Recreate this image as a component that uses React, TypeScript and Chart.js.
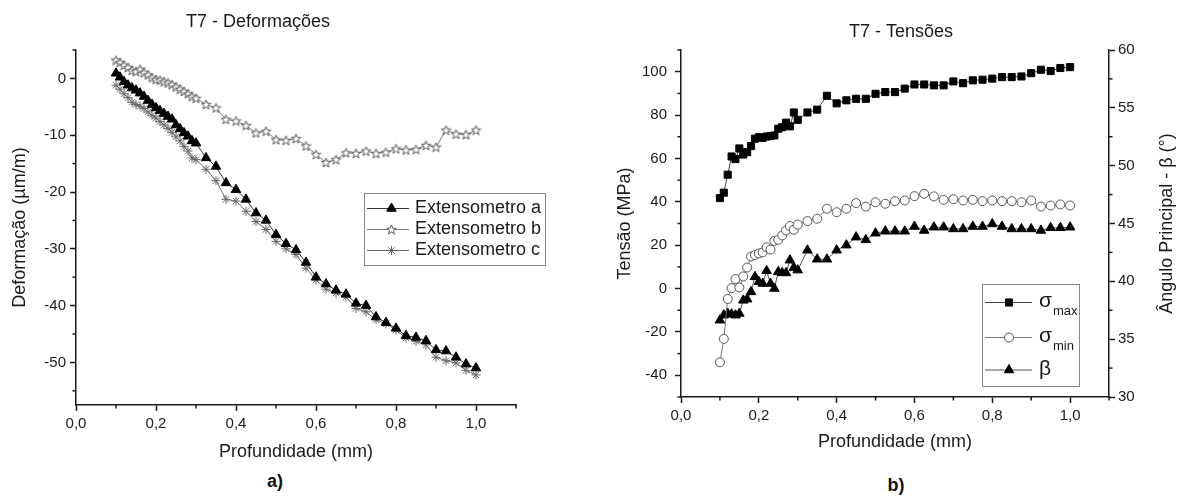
import React, { useEffect, useRef } from 'react';
import { Chart, registerables } from 'chart.js';
import { drawPoint } from 'chart.js/helpers';

const FONT = "'Liberation Sans', Arial, Helvetica, sans-serif";
const INK = '#1a1a1a';

// ---------- data ----------
const depth = [0.10, 0.11, 0.12, 0.13, 0.14, 0.15, 0.16, 0.17, 0.18, 0.19, 0.20, 0.21, 0.22, 0.23, 0.24, 0.25, 0.26, 0.27, 0.28, 0.29, 0.30,
  0.325, 0.35, 0.375, 0.40, 0.425, 0.45, 0.475, 0.50, 0.525, 0.55, 0.575, 0.60, 0.625, 0.65, 0.675, 0.70, 0.725, 0.75, 0.775, 0.80,
  0.825, 0.85, 0.875, 0.90, 0.925, 0.95, 0.975, 1.00];

const extA = [0.9, 0.2, -0.6, -1.2, -1.7, -2.1, -2.6, -3.2, -3.9, -4.6, -5.2, -5.7, -6.2, -6.7, -7.2, -8.2, -8.9, -9.6, -10.2, -11.0, -11.4,
  -14.0, -15.5, -18.4, -19.6, -21.3, -23.7, -25.0, -27.5, -29.1, -30.2, -32.4, -35.0, -36.2, -37.3, -38.0, -39.6, -40.0, -42.0, -43.0, -44.0,
  -45.3, -45.6, -46.2, -47.8, -48.0, -49.1, -50.3, -51.0];

const extB = [3.2, 2.8, 2.3, 1.9, 1.4, 1.2, 1.6, 1.0, 0.6, 0.1, -0.2, -0.3, -0.6, -0.8, -1.1, -1.5, -1.9, -2.3, -2.7, -3.2, -3.5,
  -4.6, -5.2, -7.2, -7.5, -8.3, -9.6, -9.3, -10.8, -10.9, -10.6, -11.9, -13.4, -14.8, -14.3, -13.1, -13.2, -12.8, -13.2, -13.0, -12.4,
  -12.6, -12.5, -11.8, -12.1, -9.1, -9.8, -9.9, -9.1];

const extC = [-1.2, -1.9, -2.7, -3.4, -4.2, -4.6, -4.9, -5.3, -5.9, -6.5, -7.0, -7.6, -8.2, -8.8, -9.5, -10.3, -11.0, -12.0, -12.8, -14.0, -14.3,
  -16.0, -18.0, -21.3, -21.6, -23.4, -25.2, -26.6, -28.7, -30.0, -31.0, -33.4, -35.5, -37.1, -37.8, -38.5, -40.5, -41.1, -42.5, -43.2, -44.3,
  -45.7, -46.3, -46.9, -49.1, -49.7, -50.1, -51.4, -52.2];

const sigmaMax = [41.7, 44.2, 52.5, 60.9, 59.7, 64.6, 61.8, 62.9, 65.7, 69.1, 69.8, 69.5, 70.1, 70.3, 70.6, 73.7, 74.4, 76.5, 74.8, 81.2, 77.8,
  81.2, 82.5, 88.9, 85.4, 86.8, 87.5, 87.5, 89.8, 90.6, 90.6, 92.2, 94.1, 94.1, 93.7, 93.7, 95.5, 94.7, 96.0, 96.3, 96.8,
  97.5, 97.5, 97.8, 99.3, 100.9, 100.3, 101.7, 102.1];

const sigmaMin = [-34.0, -23.2, -4.8, 0.2, 4.4, 0.5, 5.6, 9.7, 14.8, 15.4, 16.2, 16.7, 19.0, 18.0, 22.0, 22.5, 24.5, 26.8, 28.8, 27.1, 29.5,
  31.1, 32.2, 36.8, 35.2, 36.8, 39.4, 37.8, 39.8, 39.1, 40.3, 40.6, 42.6, 43.7, 42.5, 40.9, 41.2, 40.6, 40.9, 40.3, 40.6,
  40.3, 40.3, 39.8, 40.6, 37.8, 38.3, 38.8, 38.3];

const beta = [36.64, 37.07, 37.22, 37.16, 37.07, 37.22, 38.36, 38.46, 39.09, 40.39, 39.96, 39.81, 40.91, 39.81, 39.38, 40.82, 40.73, 40.73, 41.83, 41.19, 40.97,
  42.69, 41.91, 41.91, 42.69, 43.13, 43.82, 43.59, 44.16, 44.33, 44.33, 44.33, 44.74, 44.40, 44.68, 44.68, 44.53, 44.53, 44.74, 44.74, 44.96,
  44.74, 44.53, 44.53, 44.53, 44.40, 44.63, 44.63, 44.68];

const depthTicks = [0, 0.2, 0.4, 0.6, 0.8, 1.0];
const depthMinorTicks = [0.1, 0.3, 0.5, 0.7, 0.9, 1.1];
const strainTicks = [-50, -40, -30, -20, -10, 0];
const strainMinorTicks = [-55, -45, -35, -25, -15, -5, 5];
const stressTicks = [-40, -20, 0, 20, 40, 60, 80, 100];
const stressMinorTicks = [-50, -30, -10, 10, 30, 50, 70, 90, 110];
const angleTicks = [30, 35, 40, 45, 50, 55, 60];
const angleMinorTicks = [32.5, 37.5, 42.5, 47.5, 52.5, 57.5];

const strainLabels = ['Extensometro a', 'Extensometro b', 'Extensometro c'];
const stressLabels = ['σmax', 'σmin', 'β'];
const stressLegendMain = ['σ', 'σ', 'β'];
const stressLegendSub = ['max', 'min', ''];

const toXY = (ys: number[]) => ys.map((y, i) => ({ x: depth[i], y }));

// ---------- plugins ----------
const minorTicksPlugin = {
  id: 'minorTicks',
  afterDraw(chart: any, _a: any, o: any) {
    if (!o || !o.axes) return;
    const ctx = chart.ctx;
    ctx.save();
    ctx.strokeStyle = o.color || INK;
    ctx.lineWidth = o.width || 1;
    for (const a of o.axes) {
      const s = chart.scales[a.id];
      if (!s) continue;
      for (const v of a.values) {
        const p = s.getPixelForValue(v);
        ctx.beginPath();
        if (s.position === 'bottom') { ctx.moveTo(p, s.top); ctx.lineTo(p, s.top + a.len); }
        else if (s.position === 'left') { ctx.moveTo(s.right, p); ctx.lineTo(s.right - a.len, p); }
        else { ctx.moveTo(s.left, p); ctx.lineTo(s.left + a.len, p); }
        ctx.stroke();
      }
    }
    ctx.restore();
  },
};

const boxLegendPlugin = {
  id: 'boxLegend',
  afterDraw(chart: any, _a: any, o: any) {
    if (!o || !o.box) return;
    const ctx = chart.ctx;
    const [bx, by, bw, bh] = o.box;
    ctx.save();
    ctx.fillStyle = '#fff';
    ctx.fillRect(bx, by, bw, bh);
    ctx.strokeStyle = o.borderColor;
    ctx.lineWidth = 1;
    ctx.strokeRect(bx + 0.5, by + 0.5, bw, bh);
    o.rows.forEach((ry: number, i: number) => {
      const ds = chart.data.datasets[i];
      ctx.strokeStyle = ds.borderColor;
      ctx.lineWidth = ds.borderWidth;
      ctx.beginPath();
      ctx.moveTo(o.line[0], ry);
      ctx.lineTo(o.line[1], ry);
      ctx.stroke();
      ctx.fillStyle = ds.pointBackgroundColor;
      ctx.strokeStyle = ds.pointBorderColor;
      ctx.lineWidth = ds.pointBorderWidth;
      drawPoint(ctx, { pointStyle: ds.pointStyle, rotation: 0, radius: ds.pointRadius, borderWidth: ds.pointBorderWidth } as any, o.symbolX, ry);
      ctx.fillStyle = o.color;
      ctx.textBaseline = 'middle';
      ctx.textAlign = 'left';
      const main = o.main[i];
      const sub = o.sub ? o.sub[i] : '';
      ctx.font = o.font;
      ctx.fillText(main, o.textX, ry + (o.mainDy || 0));
      if (sub) {
        const w = ctx.measureText(main).width;
        ctx.font = o.subFont;
        ctx.fillText(sub, o.textX + w + 1, ry + o.subDy);
      }
    });
    ctx.restore();
  },
};

const sideTitlePlugin = {
  id: 'sideTitle',
  afterDraw(chart: any, _a: any, o: any) {
    if (!o || !o.text) return;
    const ctx = chart.ctx;
    const ca = chart.chartArea;
    ctx.save();
    ctx.translate(o.x, (ca.top + ca.bottom) / 2);
    ctx.rotate(-Math.PI / 2);
    ctx.font = o.font;
    ctx.fillStyle = o.color;
    ctx.textAlign = 'center';
    ctx.textBaseline = 'middle';
    ctx.fillText(o.text, 0, 0);
    ctx.restore();
  },
};

Chart.register(...registerables, minorTicksPlugin, boxLegendPlugin, sideTitlePlugin);

function makeStar(): HTMLCanvasElement {
  const c = document.createElement('canvas');
  const s = 11;
  c.width = s; c.height = s;
  const ctx = c.getContext('2d')!;
  const cx = s / 2, cy = s / 2 + 0.4, R = 5, r = 2.1;
  ctx.beginPath();
  for (let i = 0; i < 10; i++) {
    const ang = -Math.PI / 2 + (i * Math.PI) / 5;
    const rad = i % 2 === 0 ? R : r;
    const x = cx + rad * Math.cos(ang);
    const y = cy + rad * Math.sin(ang);
    if (i === 0) ctx.moveTo(x, y); else ctx.lineTo(x, y);
  }
  ctx.closePath();
  ctx.fillStyle = '#fff';
  ctx.fill();
  ctx.strokeStyle = '#555';
  ctx.lineWidth = 1;
  ctx.stroke();
  return c;
}

const axisCommon = (tickSize: number, tickPad: number) => ({
  grid: { display: true, drawOnChartArea: false, drawTicks: true, tickLength: 6, tickWidth: 1.5, tickColor: INK },
  border: { display: true, color: INK, width: 1.5 },
  ticks: { font: { family: FONT, size: tickSize }, color: INK, padding: tickPad, autoSkip: false, maxRotation: 0 },
});

function leftConfig(): any {
  const star = makeStar();
  const xc = axisCommon(15, 4);
  const yc = axisCommon(15, 4);
  return {
    type: 'line',
    data: {
      datasets: [
        { label: strainLabels[0], data: toXY(extA), borderColor: '#333', borderWidth: 1, pointStyle: 'triangle', pointRadius: 5.5,
          pointBackgroundColor: '#000', pointBorderColor: '#000', pointBorderWidth: 1 },
        { label: strainLabels[1], data: toXY(extB), borderColor: '#777', borderWidth: 1, pointStyle: star, pointRadius: 5,
          pointBackgroundColor: '#fff', pointBorderColor: '#555', pointBorderWidth: 1 },
        { label: strainLabels[2], data: toXY(extC), borderColor: '#666', borderWidth: 1, pointStyle: 'star', pointRadius: 4.5,
          pointBackgroundColor: '#666', pointBorderColor: '#666', pointBorderWidth: 1 },
      ],
    },
    options: {
      responsive: false,
      animation: false,
      events: [],
      layout: { padding: { left: 0, right: 66, top: 0, bottom: 0 } },
      scales: {
        x: {
          type: 'linear', min: 0, max: 1.1,
          afterBuildTicks: (s: any) => { s.ticks = depthTicks.map((v) => ({ value: v })); },
          afterFit: (s: any) => { s.height = 65; },
          ...xc,
          ticks: { ...xc.ticks, callback: (v: number) => v.toFixed(1).replace('.', ',') },
          title: { display: true, text: 'Profundidade (mm)', font: { family: FONT, size: 18 }, color: INK, padding: { top: 0, bottom: 7.5 } },
        },
        y: {
          type: 'linear', min: -57.5, max: 5,
          afterBuildTicks: (s: any) => { s.ticks = strainTicks.map((v) => ({ value: v })); },
          afterFit: (s: any) => { s.width = 76; },
          ...yc,
          ticks: { ...yc.ticks, callback: (v: number) => String(v) },
          title: { display: true, text: 'Deformação (µm/m)', font: { family: FONT, size: 18 }, color: INK, padding: { top: 9, bottom: 0 } },
        },
      },
      plugins: {
        legend: { display: false },
        tooltip: { enabled: false },
        title: { display: true, text: 'T7 - Deformações', font: { family: FONT, size: 18, weight: 'normal' }, color: INK, padding: { top: 11, bottom: 17.4 } },
        minorTicks: { color: INK, width: 1.5, axes: [
          { id: 'x', values: depthMinorTicks, len: 3.5 },
          { id: 'y', values: strainMinorTicks, len: 3.5 },
        ] },
        boxLegend: {
          box: [364, 193, 181, 72], borderColor: '#888', rows: [208.5, 229.5, 250.5], line: [367, 409], symbolX: 391.5, textX: 415,
          main: strainLabels, font: `18px ${FONT}`, color: INK,
        },
      },
    },
  };
}

function rightConfig(): any {
  const xc = axisCommon(15, 4);
  const yc = axisCommon(15, 8);
  const y2c = axisCommon(15, 3);
  return {
    type: 'line',
    data: {
      datasets: [
        { label: stressLabels[0], data: toXY(sigmaMax), yAxisID: 'y', borderColor: '#444', borderWidth: 1, pointStyle: 'rect', pointRadius: 5,
          pointBackgroundColor: '#000', pointBorderColor: '#000', pointBorderWidth: 1 },
        { label: stressLabels[1], data: toXY(sigmaMin), yAxisID: 'y', borderColor: '#777', borderWidth: 1, pointStyle: 'circle', pointRadius: 4.5,
          pointBackgroundColor: '#fff', pointBorderColor: '#555', pointBorderWidth: 1 },
        { label: stressLabels[2], data: toXY(beta), yAxisID: 'y2', borderColor: '#555', borderWidth: 1, pointStyle: 'triangle', pointRadius: 5.5,
          pointBackgroundColor: '#000', pointBorderColor: '#000', pointBorderWidth: 1 },
      ],
    },
    options: {
      responsive: false,
      animation: false,
      events: [],
      layout: { padding: { left: 0, right: 0, top: 0, bottom: 0 } },
      scales: {
        x: {
          type: 'linear', min: 0, max: 1.1,
          afterBuildTicks: (s: any) => { s.ticks = depthTicks.map((v) => ({ value: v })); },
          afterFit: (s: any) => { s.height = 73; },
          ...xc,
          ticks: { ...xc.ticks, callback: (v: number) => v.toFixed(1).replace('.', ',') },
          title: { display: true, text: 'Profundidade (mm)', font: { family: FONT, size: 18 }, color: INK, padding: { top: 0, bottom: 17.5 } },
        },
        y: {
          type: 'linear', position: 'left', min: -50, max: 110,
          afterBuildTicks: (s: any) => { s.ticks = stressTicks.map((v) => ({ value: v })); },
          afterFit: (s: any) => { s.width = 71; },
          ...yc,
          ticks: { ...yc.ticks, callback: (v: number) => String(v) },
          title: { display: true, text: 'Tensão (MPa)', font: { family: FONT, size: 18 }, color: INK, padding: { top: 4, bottom: 0 } },
        },
        y2: {
          type: 'linear', position: 'right', min: 30, max: 60,
          afterBuildTicks: (s: any) => { s.ticks = angleTicks.map((v) => ({ value: v })); },
          afterFit: (s: any) => { s.width = 83; },
          ...y2c,
          ticks: { ...y2c.ticks, callback: (v: number) => String(v) },
        },
      },
      plugins: {
        legend: { display: false },
        tooltip: { enabled: false },
        title: { display: true, text: 'T7 - Tensões', font: { family: FONT, size: 18, weight: 'normal' }, color: INK, padding: { top: 21, bottom: 7.4 } },
        minorTicks: { color: INK, width: 1.5, axes: [
          { id: 'x', values: depthMinorTicks, len: 3.5 },
          { id: 'y', values: stressMinorTicks, len: 3.5 },
          { id: 'y2', values: angleMinorTicks, len: 3.5 },
        ] },
        boxLegend: {
          box: [372, 284, 97, 102], borderColor: '#888', rows: [302.5, 337.5, 370], line: [375, 422], symbolX: 399, textX: 429,
          main: stressLegendMain, sub: stressLegendSub, font: `21px ${FONT}`, subFont: `13px ${FONT}`, subDy: 9, mainDy: -1, color: INK,
        },
        sideTitle: { text: 'Ângulo Principal - β (°)', x: 557, font: `18px ${FONT}`, color: INK },
      },
    },
  };
}

function ChartBox(props: { left: number; top: number; width: number; height: number; make: () => any }) {
  const ref = useRef<HTMLCanvasElement>(null);
  useEffect(() => {
    const chart = new Chart(ref.current as HTMLCanvasElement, props.make());
    return () => chart.destroy();
  }, []);
  return (
    <canvas
      ref={ref}
      width={props.width}
      height={props.height}
      style={{ position: 'absolute', left: props.left, top: props.top, width: props.width, height: props.height }}
    />
  );
}

const captionStyle = (x: number, y: number): React.CSSProperties => ({
  position: 'absolute', left: x, top: y, transform: 'translate(-50%, -50%)',
  fontFamily: FONT, fontWeight: 'bold', fontSize: 18, color: '#111', whiteSpace: 'nowrap',
});

export default function App() {
  return (
    <div style={{ position: 'fixed', left: 0, top: 0, width: 1183, height: 498, overflow: 'hidden', background: '#fff' }}>
      <ChartBox left={0} top={0} width={582} height={470} make={leftConfig} />
      <ChartBox left={610} top={0} width={582} height={470} make={rightConfig} />
      <div style={captionStyle(275, 481)}>a)</div>
      <div style={captionStyle(896, 485)}>b)</div>
    </div>
  );
}
